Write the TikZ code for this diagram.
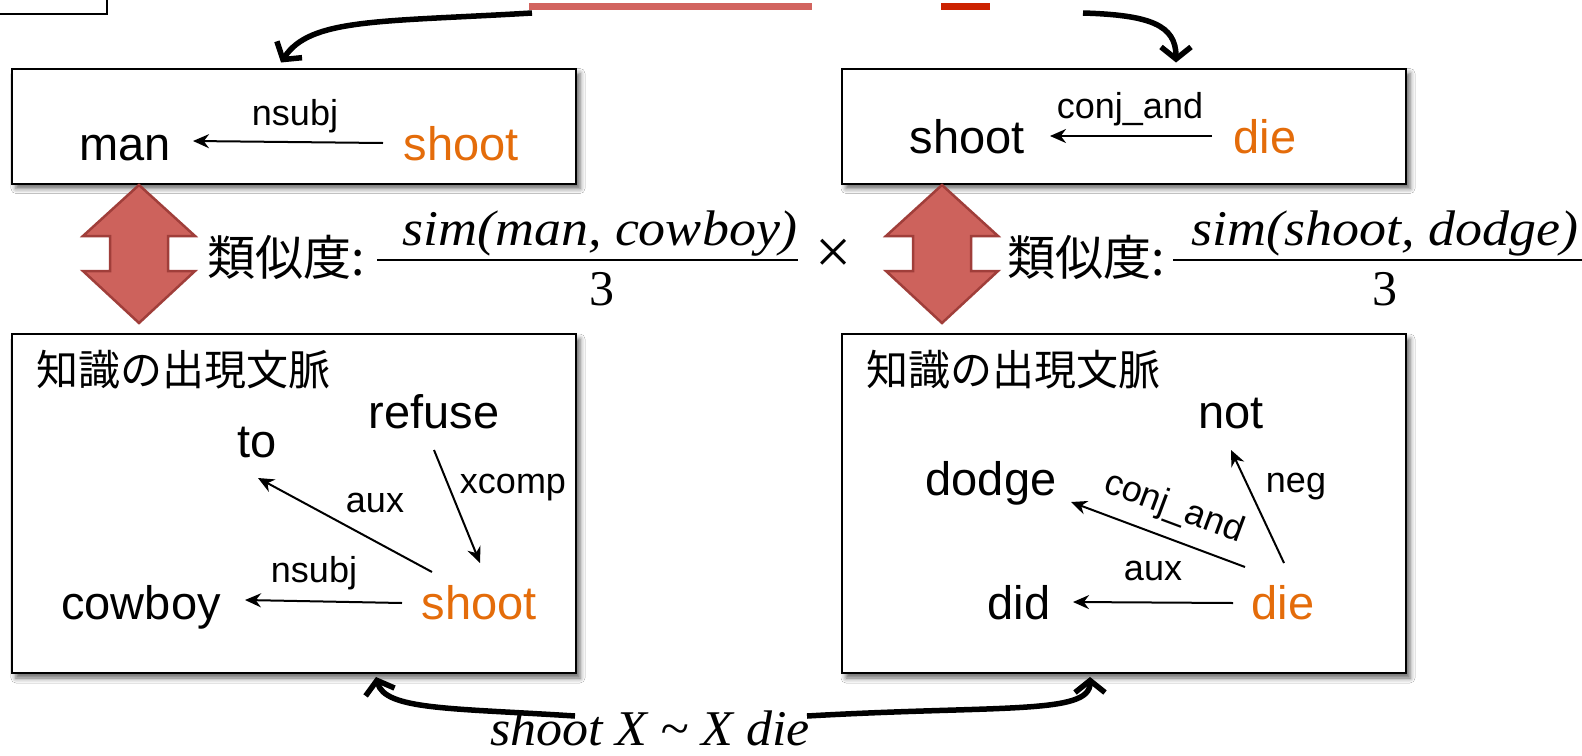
\documentclass[tikz,border=0pt]{standalone}
\usepackage{fontspec}
\setmainfont{Liberation Sans}
\newfontfamily\jpfont{Noto Sans CJK JP}
\newfontfamily\seriffont{Liberation Serif}
\usetikzlibrary{arrows.meta,shadows.blur}
\definecolor{orng}{RGB}{228,108,10}
\definecolor{redfill}{RGB}{205,98,92}
\definecolor{redline}{RGB}{160,62,58}
\definecolor{barred}{RGB}{210,100,95}
\definecolor{barredb}{RGB}{204,34,0}
\begin{document}
\begin{tikzpicture}[x=1pt,y=-1pt,
 box/.style={draw=black, line width=2pt, fill=white, inner sep=0pt,
   blur shadow={shadow xshift=4pt, shadow yshift=-5pt, shadow blur radius=5pt, shadow opacity=60}},
 word/.style={font=\fontsize{47}{56}\selectfont, inner sep=0pt, anchor=base},
 lab/.style={font=\fontsize{36}{43}\selectfont, inner sep=0pt, anchor=base},
 hl/.style={text=orng},
 dep/.style={line width=2pt, -{Stealth[length=16pt,width=14pt]}},
 bigarr/.style={line width=5.5pt, -{Straight Barb[length=12pt,width=30pt,line width=5.5pt]}},
 dbl/.style={fill=redfill, draw=redline, line width=2.5pt, line join=miter},
 jp/.style={font=\jpfont\fontsize{48}{56}\selectfont, inner sep=0pt, anchor=west},
 ttl/.style={font=\jpfont\fontsize{42}{50}\selectfont, inner sep=0pt, anchor=west},
 mth/.style={font=\seriffont\itshape\fontsize{50}{60}\selectfont, inner sep=0pt, anchor=base},
 den/.style={font=\seriffont\fontsize{50}{60}\selectfont, inner sep=0pt, anchor=base},
]
\useasboundingbox (0,0) rectangle (1582,755);
\fill[white] (0,0) rectangle (1582,755);

% cut-off elements at top
\draw[line width=2pt] (-5,-5) rectangle (107,14);
\fill[barred] (529,3) rectangle (812,10);
\fill[barredb] (941,3) rectangle (990,10);

% boxes
\node[box, minimum width=564pt, minimum height=115pt] (topL) at (294,126) {};
\node[box, minimum width=564pt, minimum height=115pt] (topR) at (1124,126) {};
\node[box, minimum width=564pt, minimum height=339pt] (botL) at (294,503.5) {};
\node[box, minimum width=564pt, minimum height=339pt] (botR) at (1124,503.5) {};

% top left box
\node[word] (man) at (125,160) {man};
\node[word, hl] (shootA) at (461,160) {shoot};
\node[lab] (nsubjA) at (295,125) {nsubj};
\draw[dep] ([shift={(-78,-17)}]shootA.base) -- ([shift={(68,-19)}]man.base);

% top right box
\node[word] (shootB) at (967,153) {shoot};
\node[word, hl] (dieA) at (1265,153) {die};
\node[lab] (conjA) at (1130,118) {conj\_and};
\draw[dep] ([shift={(-53,-17)}]dieA.base) -- ([shift={(83,-17)}]shootB.base);

% double arrows
\draw[dbl] (139,185) -- (195,236) -- (168,236) -- (168,271) -- (195,271) -- (139,323)
  -- (83,271) -- (110,271) -- (110,236) -- (83,236) -- cycle;
\draw[dbl] (942,185) -- (998,236) -- (971,236) -- (971,271) -- (998,271) -- (942,323)
  -- (886,271) -- (913,271) -- (913,236) -- (886,236) -- cycle;

% similarity formulas
\node[jp] (simL) at (207,257) {類似度:};
\node[mth] (numL) at (600,245) {\scalebox{1.08}[1]{sim(man, cowboy)}};
\node[den] (denL) at (602,305) {3};
\draw[line width=2.5pt] (377,260) -- (798,260);
\node[font=\seriffont\fontsize{64}{72}\selectfont, inner sep=0pt] (times) at (834,256) {×};
\node[jp] (simR) at (1007,257) {類似度:};
\node[mth] (numR) at (1385,245) {\scalebox{1.08}[1]{sim(shoot, dodge)}};
\node[den] (denR) at (1385,305) {3};
\draw[line width=2.5pt] (1173,260) -- (1590,260);

% bottom left box
\node[ttl] (ctxL) at (36,370) {知識の出現文脈};
\node[word] (to) at (257,457) {to};
\node[word] (refuse) at (434,428) {refuse};
\node[lab] (xcomp) at (513,493) {xcomp};
\node[lab] (auxA) at (375,512) {aux};
\node[lab] (nsubjB) at (314,582) {nsubj};
\node[word] (cowboy) at (141,619) {cowboy};
\node[word, hl] (shootC) at (479,619) {shoot};
\draw[dep] ([shift={(-47,-47)}]shootC.base) -- ([shift={(1,21)}]to.base);
\draw[dep] ([shift={(0,22)}]refuse.base) -- ([shift={(1,-56)}]shootC.base);
\draw[dep] ([shift={(-77,-16)}]shootC.base) -- ([shift={(104,-19)}]cowboy.base);

% bottom right box
\node[ttl] (ctxR) at (866,370) {知識の出現文脈};
\node[word] (not) at (1231,428) {not};
\node[word] (dodge) at (991,495) {dodge};
\node[lab, anchor=center, rotate=-20.5, inner sep=-4pt] (conjB) at (1174,508) {conj\_and};
\node[lab] (neg) at (1296,492) {neg};
\node[lab] (auxB) at (1153,580) {aux};
\node[word] (did) at (1019,619) {did};
\node[word, hl] (dieB) at (1283,619) {die};
\draw[dep] ([shift={(1,-56)}]dieB.base) -- ([shift={(0,22)}]not.base);
\draw[dep] ([shift={(-38,-52)}]dieB.base) -- ([shift={(80,7)}]dodge.base);
\draw[dep] ([shift={(-50,-16)}]dieB.base) -- ([shift={(54,-17)}]did.base);

% bottom pattern
\node[mth] (pat) at (650,745) {\scalebox{1.04}[1]{shoot X \textasciitilde{} X die}};
\coordinate (pl) at (575,716);
\coordinate (pr) at (807,716);
\draw[bigarr] (pl) .. controls (450,708) and (385,710) .. ([shift={(82,3)}]botL.south);
\draw[bigarr] (pr) .. controls (1000,705) and (1090,715) .. ([shift={(-34,3)}]botR.south);

% top curved arrows
\coordinate (ql) at (532,13);
\coordinate (qr) at (1083,13);
\draw[bigarr] (ql) .. controls (380,22) and (310,18) .. ([shift={(-13,-5)}]topL.north);
\draw[bigarr] (qr) .. controls (1150,15) and (1176,25) .. ([shift={(52,-5)}]topR.north);
\end{tikzpicture}
\end{document}
